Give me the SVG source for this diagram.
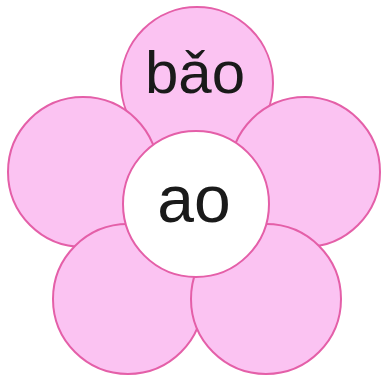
<svg xmlns="http://www.w3.org/2000/svg" width="381" height="375" viewBox="0 0 381 375">
  <style>
    .petal { fill: #fbc3f2; stroke: #e45fa8; stroke-width: 2; }
    .core { fill: #ffffff; stroke: #e45fa8; stroke-width: 2; }
    .lbl { font-family: "Liberation Sans", Arial, sans-serif; fill: #1a1a1a; text-anchor: middle; }
  </style>
  <rect width="381" height="375" fill="#ffffff"/>
  <g id="petal-top"><circle class="petal" cx="197" cy="83" r="76"/>
    <text class="lbl" x="195" y="93" font-size="60">bǎo</text></g>
  <g id="petal-left"><circle class="petal" cx="83" cy="172" r="75"/></g>
  <g id="petal-right"><circle class="petal" cx="305" cy="172" r="75"/></g>
  <g id="petal-bottom-left"><circle class="petal" cx="128" cy="299" r="75"/></g>
  <g id="petal-bottom-right"><circle class="petal" cx="266" cy="299" r="75"/></g>
  <g id="center"><circle class="core" cx="196" cy="204" r="73"/>
    <text class="lbl" x="194" y="222" font-size="66">ao</text></g>
</svg>
